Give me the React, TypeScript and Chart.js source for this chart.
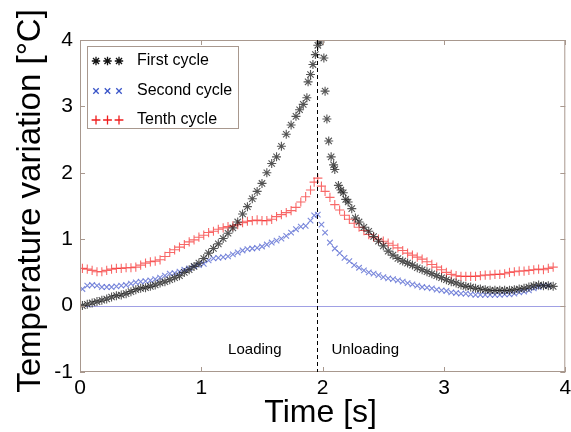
import React, { useEffect, useRef } from "react";
import { Chart, registerables } from "chart.js";

Chart.register(...registerables);

// ---------- data ----------
const SERIES_LABELS = ["First cycle", "Second cycle", "Tenth cycle"];
const PHASE_LABELS = ["Loading", "Unloading"];
const TRANSITION_TIME = 1.95;
const X_TICKS = [0, 1, 2, 3, 4];
const Y_TICKS = [-1, 0, 1, 2, 3, 4];

const FIRST_T = [
  0.02, 0.06, 0.10, 0.14, 0.18, 0.22, 0.26, 0.30, 0.34, 0.38,
  0.42, 0.46, 0.50, 0.54, 0.58, 0.62, 0.66, 0.70, 0.74, 0.78,
  0.82, 0.86, 0.90, 0.94, 0.98, 1.02, 1.06, 1.10, 1.14, 1.18,
  1.22, 1.26, 1.30, 1.34, 1.38, 1.42, 1.46, 1.50, 1.54, 1.58,
  1.62, 1.66, 1.70, 1.74, 1.78,
  1.81, 1.84, 1.87, 1.88, 1.90, 1.92, 1.94, 1.96, 1.98, 2.01,
  2.02, 2.035, 2.05, 2.07, 2.09, 2.10, 2.13, 2.15, 2.17, 2.19,
  2.21, 2.24, 2.27, 2.30, 2.34, 2.38, 2.42, 2.46, 2.50, 2.54,
  2.58, 2.62, 2.66, 2.70, 2.74, 2.78, 2.82, 2.86, 2.90, 2.94,
  2.98, 3.02, 3.06, 3.10, 3.14, 3.18, 3.22, 3.26, 3.30, 3.34,
  3.38, 3.42, 3.46, 3.50, 3.54, 3.58, 3.62, 3.66, 3.70, 3.74,
  3.78, 3.82, 3.86, 3.90,
];
const FIRST_V = [
  0.00, 0.02, 0.04, 0.06, 0.08, 0.10, 0.13, 0.15, 0.16, 0.18,
  0.21, 0.24, 0.26, 0.27, 0.29, 0.31, 0.34, 0.36, 0.39, 0.42,
  0.45, 0.50, 0.54, 0.59, 0.64, 0.71, 0.79, 0.86, 0.93, 1.01,
  1.09, 1.17, 1.26, 1.38, 1.49, 1.61, 1.72, 1.84, 2.00, 2.14,
  2.24, 2.40, 2.58, 2.72, 2.85,
  2.95, 3.03, 3.13, 3.37, 3.48, 3.63, 3.78, 3.92, 3.97, 3.73,
  3.23, 2.81, 2.48, 2.24, 2.12, 2.05, 1.81, 1.74, 1.70, 1.60,
  1.56, 1.46, 1.32, 1.26, 1.18, 1.12, 1.04, 0.97, 0.90, 0.82,
  0.76, 0.71, 0.67, 0.64, 0.61, 0.57, 0.54, 0.51, 0.48, 0.45,
  0.42, 0.39, 0.36, 0.34, 0.31, 0.29, 0.28, 0.26, 0.25, 0.24,
  0.23, 0.23, 0.23, 0.23, 0.23, 0.24, 0.25, 0.26, 0.28, 0.30,
  0.31, 0.30, 0.30, 0.29,
];

const CYCLE_T = [
  0.02, 0.06, 0.10, 0.14, 0.18, 0.22, 0.26, 0.30, 0.34, 0.38,
  0.42, 0.46, 0.50, 0.54, 0.58, 0.62, 0.66, 0.70, 0.74, 0.78,
  0.82, 0.86, 0.90, 0.94, 0.98, 1.02, 1.06, 1.10, 1.14, 1.18,
  1.22, 1.26, 1.30, 1.34, 1.38, 1.42, 1.46, 1.50, 1.54, 1.58,
  1.62, 1.66, 1.70, 1.74, 1.78, 1.82, 1.86, 1.90,
  1.93, 1.96, 1.99,
  2.02, 2.06, 2.10, 2.14, 2.18, 2.22, 2.26, 2.30, 2.34, 2.38,
  2.42, 2.46, 2.50, 2.54, 2.58, 2.62, 2.66, 2.70, 2.74, 2.78,
  2.82, 2.86, 2.90, 2.94, 2.98, 3.02, 3.06, 3.10, 3.14, 3.18,
  3.22, 3.26, 3.30, 3.34, 3.38, 3.42, 3.46, 3.50, 3.54, 3.58,
  3.62, 3.66, 3.70, 3.74, 3.78, 3.82, 3.86, 3.90,
];
const SECOND_V = [
  0.25, 0.30, 0.31, 0.30, 0.28, 0.28, 0.28, 0.29, 0.30, 0.31,
  0.33, 0.35, 0.36, 0.37, 0.38, 0.40, 0.42, 0.45, 0.48, 0.49,
  0.51, 0.54, 0.56, 0.59, 0.61, 0.63, 0.68, 0.71, 0.72, 0.73,
  0.74, 0.77, 0.80, 0.83, 0.85, 0.86, 0.87, 0.89, 0.92, 0.95,
  0.98, 1.01, 1.05, 1.10, 1.15, 1.19, 1.20, 1.28,
  1.36, 1.37, 1.22,
  1.10, 0.95, 0.86, 0.79, 0.72, 0.67, 0.61, 0.57, 0.53, 0.50,
  0.48, 0.46, 0.43, 0.41, 0.40, 0.38, 0.36, 0.34, 0.32, 0.30,
  0.28, 0.27, 0.26, 0.24, 0.23, 0.22, 0.20, 0.19, 0.18, 0.18,
  0.17, 0.16, 0.16, 0.16, 0.16, 0.16, 0.16, 0.17, 0.17, 0.18,
  0.20, 0.21, 0.23, 0.26, 0.28, 0.30, 0.30,
];
const TENTH_V = [
  0.56, 0.55, 0.53, 0.51, 0.51, 0.53, 0.55, 0.56, 0.56, 0.57,
  0.57, 0.58, 0.61, 0.64, 0.66, 0.67, 0.69, 0.74, 0.80, 0.84,
  0.88, 0.92, 0.96, 0.99, 1.03, 1.06, 1.10, 1.12, 1.15, 1.17,
  1.19, 1.20, 1.22, 1.25, 1.27, 1.28, 1.29, 1.28, 1.28, 1.30,
  1.34, 1.37, 1.40, 1.43, 1.48, 1.56, 1.64, 1.74,
  1.86, 1.92, 1.80,
  1.72, 1.63, 1.52, 1.44, 1.36, 1.30, 1.24, 1.18, 1.13, 1.07,
  1.03, 1.00, 0.97, 0.94, 0.91, 0.87, 0.83, 0.79, 0.76, 0.73,
  0.70, 0.66, 0.62, 0.58, 0.54, 0.50, 0.47, 0.45, 0.44, 0.44,
  0.44, 0.44, 0.45, 0.46, 0.46, 0.47, 0.47, 0.48, 0.50, 0.51,
  0.52, 0.52, 0.53, 0.54, 0.55, 0.54, 0.56, 0.58,
];

// ---------- styles ----------
const FONT = "'Liberation Sans', Arial, Helvetica, sans-serif";
const FRAME = "#a8988e";
const ZERO_LINE = "#a0a0e4";
const COLORS = ["rgba(20,20,20,0.72)", "rgba(70,90,205,0.72)", "rgba(245,40,40,0.7)"];
const LEGEND_COLORS = ["#111111", "#3a55c8", "#f01c1c"];
const STYLES = ["star", "crossRot", "cross"];
const RADII = [4.5, 3.9, 4.6];
const LEGEND_RADII = [4.2, 3.8, 4.4];

function drawMarker(ctx: CanvasRenderingContext2D, style: string, x: number, y: number, r: number, color: string) {
  ctx.save();
  ctx.strokeStyle = color;
  ctx.lineWidth = 1.3;
  ctx.beginPath();
  if (style === "cross" || style === "star") {
    ctx.moveTo(x - r, y); ctx.lineTo(x + r, y);
    ctx.moveTo(x, y - r); ctx.lineTo(x, y + r);
  }
  if (style === "crossRot" || style === "star") {
    const d = r * 0.72;
    ctx.moveTo(x - d, y - d); ctx.lineTo(x + d, y + d);
    ctx.moveTo(x - d, y + d); ctx.lineTo(x + d, y - d);
  }
  ctx.stroke();
  ctx.restore();
}

export default function App() {
  const ref = useRef<HTMLCanvasElement>(null);

  useEffect(() => {
    document.body.style.margin = "0";
    const canvas = ref.current;
    if (!canvas) return;

    const mk = (T: number[], V: number[]) => V.map((v, i) => ({ x: T[i], y: v }));
    const seriesData = [mk(FIRST_T, FIRST_V), mk(CYCLE_T, SECOND_V), mk(CYCLE_T, TENTH_V)];

    const line = (ctx: CanvasRenderingContext2D, x1: number, y1: number, x2: number, y2: number) => {
      ctx.beginPath();
      ctx.moveTo(x1, y1);
      ctx.lineTo(x2, y2);
      ctx.stroke();
    };

    const overlay = {
      id: "overlay",
      beforeDatasetsDraw(chart: any) {
        const { ctx, chartArea: a, scales } = chart;
        const y0 = Math.round(scales.y.getPixelForValue(0)) + 0.5;
        ctx.save();
        ctx.strokeStyle = ZERO_LINE;
        ctx.lineWidth = 1;
        line(ctx, a.left, y0, a.right, y0);
        ctx.restore();
      },
      afterDraw(chart: any) {
        const { ctx, chartArea: a, scales } = chart;
        const xs = scales.x, ys = scales.y;
        ctx.save();
        // frame
        ctx.strokeStyle = FRAME;
        ctx.lineWidth = 1;
        ctx.strokeRect(a.left + 0.5, a.top + 0.5, a.right - a.left - 1, a.bottom - a.top - 1);
        // inward ticks
        X_TICKS.forEach((v) => {
          const px = Math.round(xs.getPixelForValue(v)) + 0.5;
          line(ctx, px, a.bottom, px, a.bottom - 5);
          line(ctx, px, a.top, px, a.top + 5);
        });
        Y_TICKS.forEach((v) => {
          const py = Math.round(ys.getPixelForValue(v)) + 0.5;
          line(ctx, a.left, py, a.left + 5, py);
          line(ctx, a.right, py, a.right - 5, py);
        });
        // transition dashed line
        const dx = Math.round(xs.getPixelForValue(TRANSITION_TIME)) + 0.5;
        ctx.strokeStyle = "#000";
        ctx.setLineDash([4, 3]);
        line(ctx, dx, a.top, dx, a.bottom);
        ctx.setLineDash([]);
        // phase labels
        ctx.fillStyle = "#000";
        ctx.font = `15px ${FONT}`;
        ctx.textBaseline = "alphabetic";
        ctx.textAlign = "right";
        ctx.fillText(PHASE_LABELS[0], dx - 36, a.bottom - 18);
        ctx.textAlign = "left";
        ctx.fillText(PHASE_LABELS[1], dx + 14, a.bottom - 18);
        // axis titles
        ctx.font = `32px ${FONT}`;
        ctx.textAlign = "center";
        ctx.fillText("Time [s]", (a.left + a.right) / 2 - 2, 422);
        ctx.save();
        ctx.translate(40, 201);
        ctx.rotate(-Math.PI / 2);
        ctx.font = `33px ${FONT}`;
        ctx.fillText("Temperature variation [°C]", 0, 0);
        ctx.restore();
        // legend
        const lx = a.left + 7, ly = a.top + 6, lw = 151, lh = 82;
        ctx.fillStyle = "#fff";
        ctx.fillRect(lx, ly, lw, lh);
        ctx.strokeStyle = FRAME;
        ctx.strokeRect(lx + 0.5, ly + 0.5, lw, lh);
        const rows = [15, 45, 74];
        SERIES_LABELS.forEach((label, i) => {
          const cy = ly + rows[i];
          [9, 20.5, 32].forEach((ox) => drawMarker(ctx, STYLES[i], lx + ox, cy, LEGEND_RADII[i], LEGEND_COLORS[i]));
          ctx.fillStyle = "#000";
          ctx.font = `16px ${FONT}`;
          ctx.textAlign = "left";
          ctx.textBaseline = "middle";
          ctx.fillText(label, lx + 50, cy);
        });
        ctx.restore();
      },
    };

    const tickFont = { family: FONT, size: 21 };

    const chart = new Chart(canvas, {
      type: "scatter",
      data: {
        datasets: SERIES_LABELS.map((label, i) => ({
          label,
          data: seriesData[i],
          pointStyle: STYLES[i] as any,
          pointRadius: RADII[i],
          pointBorderWidth: 1.1,
          borderColor: COLORS[i],
          backgroundColor: COLORS[i],
          showLine: false,
        })),
      },
      options: {
        responsive: false,
        animation: false,
        devicePixelRatio: 1,
        layout: { padding: { top: 40, right: 5, left: 0, bottom: 0 } },
        plugins: { legend: { display: false }, tooltip: { enabled: false } },
        scales: {
          x: {
            type: "linear",
            min: 0,
            max: 4,
            afterFit: (s: any) => { s.height = 60; s.paddingLeft = 0; s.paddingRight = 0; },
            afterBuildTicks: (s: any) => { s.ticks = X_TICKS.map((v) => ({ value: v })); },
            ticks: { font: tickFont, color: "#000", padding: 4, maxRotation: 0 },
            grid: { display: false, drawTicks: false },
            border: { display: false },
          },
          y: {
            type: "linear",
            min: -1,
            max: 4,
            afterFit: (s: any) => { s.width = 80; s.paddingTop = 0; s.paddingBottom = 0; },
            afterBuildTicks: (s: any) => { s.ticks = Y_TICKS.map((v) => ({ value: v })); },
            ticks: { font: tickFont, color: "#000", padding: 7 },
            grid: { display: false, drawTicks: false },
            border: { display: false },
          },
        },
      },
      plugins: [overlay],
    });

    return () => chart.destroy();
  }, []);

  return (
    <div style={{ width: 571, height: 432 }}>
      <canvas ref={ref} width={571} height={432} style={{ display: "block" }} />
    </div>
  );
}
